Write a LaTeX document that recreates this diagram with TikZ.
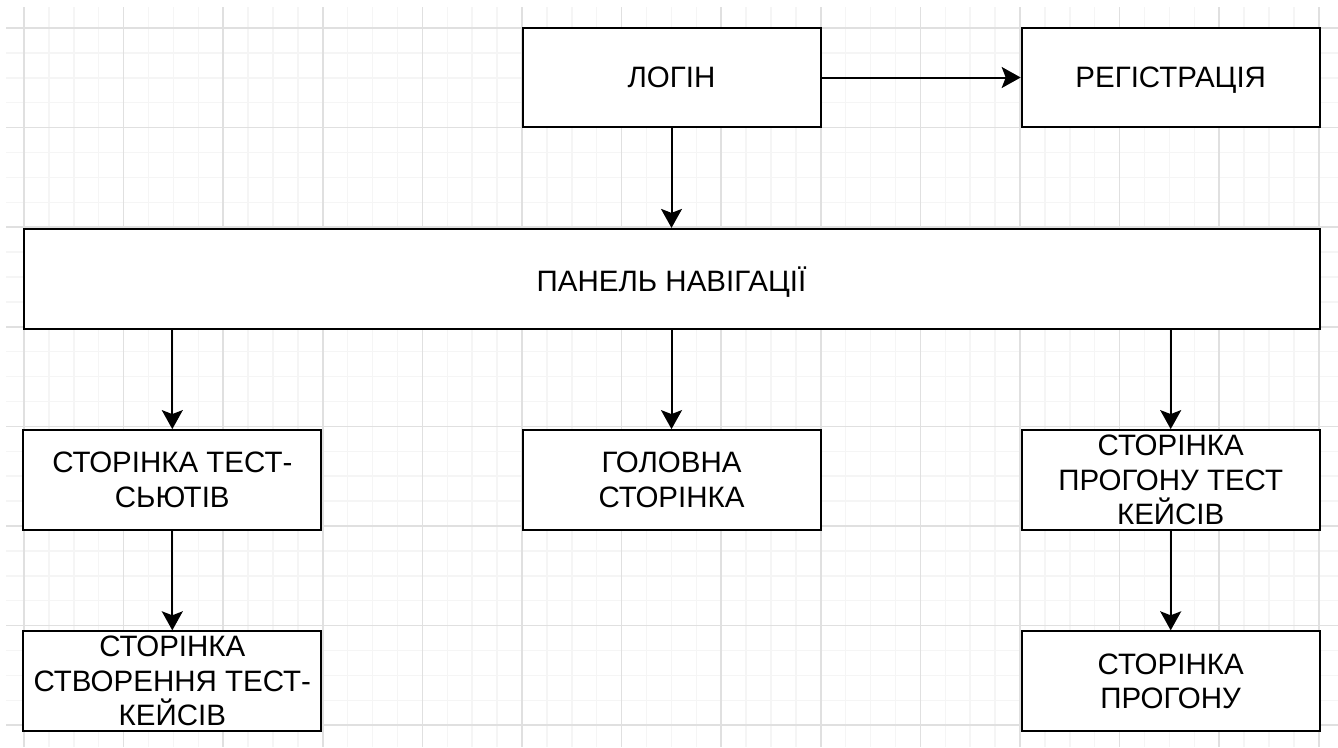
\documentclass[tikz,border=0pt]{standalone}
\usepackage{fontspec}
\setmainfont{Liberation Sans}
\usetikzlibrary{positioning,arrows.meta}
\definecolor{gridminor}{HTML}{F5F5F5}
\definecolor{gridmajor}{HTML}{E0E0E0}
\begin{document}
\begin{tikzpicture}[x=1pt, y=-1pt, node distance=99.6pt and 199.2pt,
    box/.style={draw, rectangle, line width=2pt, fill=white, minimum width=298pt, minimum height=99.6pt, align=center, font=\fontsize{29.5}{34.5}\selectfont},
    link/.style={line width=2pt, -{Stealth[length=19pt, width=21pt, inset=4pt]}}]
    \useasboundingbox (0,0) rectangle (1338,747);
    % background grid
    \foreach \i in {0,...,52} \draw[gridminor, line width=1.5pt] ({24+24.9*\i},7) -- ({24+24.9*\i},747);
    \foreach \i in {0,...,28} \draw[gridminor, line width=1.5pt] (6,{28+24.9*\i}) -- (1338,{28+24.9*\i});
    \foreach \i in {0,...,13} \draw[gridmajor, line width=1.5pt] ({24+99.6*\i},7) -- ({24+99.6*\i},747);
    \foreach \i in {0,...,7} \draw[gridmajor, line width=1.5pt] (6,{28+99.6*\i}) -- (1338,{28+99.6*\i});

    \node[box] (login) at (671.5,77.5) {ЛОГІН};
    \node[box, text depth=0pt, right=of login] (reg) {РЕГІСТРАЦІЯ};
    \node[box, text depth=0pt, minimum width=1296pt, below=of login] (panel) {ПАНЕЛЬ НАВІГАЦІЇ};
    \node[box, below=of panel] (main) {ГОЛОВНА\\СТОРІНКА};
    \node[box, left=of main] (suites) {СТОРІНКА ТЕСТ-\\СЬЮТІВ};
    \node[box, right=of main] (runs) {СТОРІНКА\\ПРОГОНУ ТЕСТ\\КЕЙСІВ};
    \node[box, below=of suites] (cases) {СТОРІНКА\\СТВОРЕННЯ ТЕСТ-\\КЕЙСІВ};
    \node[box, below=of runs] (run) {СТОРІНКА\\ПРОГОНУ};

    \draw[link] (login) -- (reg);
    \draw[link] (login) -- (panel);
    \draw[link] (suites |- panel.south) -- (suites);
    \draw[link] (main |- panel.south) -- (main);
    \draw[link] (runs |- panel.south) -- (runs);
    \draw[link] (suites) -- (cases);
    \draw[link] (runs) -- (run);
\end{tikzpicture}
\end{document}
